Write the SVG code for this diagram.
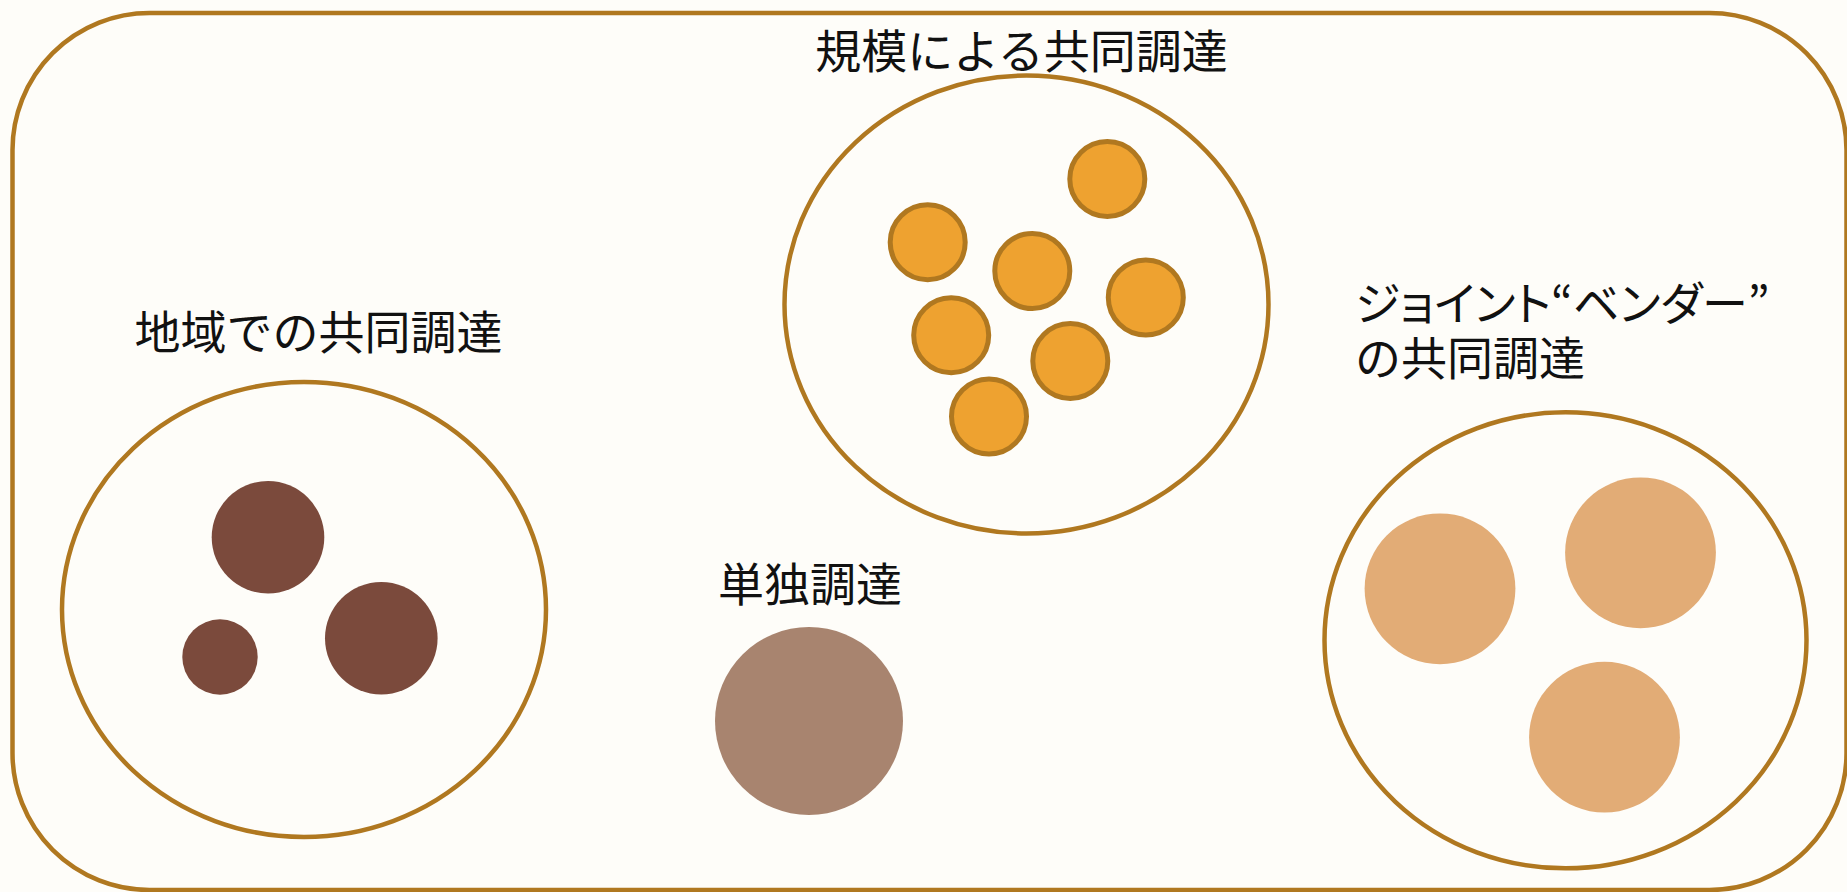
<svg xmlns="http://www.w3.org/2000/svg" width="1847" height="892" viewBox="0 0 1847 892">
<style>
.frame{fill:none;stroke:#B07820;stroke-width:4.5}
.group{fill:#FEFDF9;stroke:#B07820;stroke-width:4.5}
.lbl{font-family:"Noto Sans CJK JP","Noto Sans CJK SC",sans-serif;font-size:46px;fill:#111}
.dark{fill:#7B4A3C}
.solo{fill:#A8846F}
.org{fill:#EEA230;stroke:#B07820;stroke-width:5}
.light{fill:#E2AC76}
</style>
<rect x="0" y="0" width="1847" height="892" fill="#FEFDF9"/>
<rect class="frame" x="12.5" y="13" width="1834" height="877" rx="137" ry="137"/>
<g id="regional">
  <ellipse class="group" cx="304" cy="609.5" rx="242" ry="227.5"/>
  <circle class="dark" cx="268" cy="537.3" r="56.3"/>
  <circle class="dark" cx="381.3" cy="638.3" r="56.3"/>
  <circle class="dark" cx="220" cy="657" r="37.7"/>
  <text class="lbl" x="318.5" y="349" text-anchor="middle">地域での共同調達</text>
</g>
<g id="scale">
  <ellipse class="group" cx="1026.5" cy="304.5" rx="242" ry="229"/>
  <circle class="org" cx="1107.3" cy="179" r="37.5"/>
  <circle class="org" cx="927.7" cy="242.3" r="37.5"/>
  <circle class="org" cx="1032.3" cy="271" r="37.5"/>
  <circle class="org" cx="1145.8" cy="297.5" r="37.5"/>
  <circle class="org" cx="951.2" cy="335.3" r="37.5"/>
  <circle class="org" cx="1070.3" cy="361" r="37.5"/>
  <circle class="org" cx="989" cy="416.5" r="37.5"/>
  <text class="lbl" x="1021.5" y="68" text-anchor="middle">規模による共同調達</text>
</g>
<g id="single">
  <circle class="solo" cx="809" cy="721" r="94"/>
  <text class="lbl" x="810" y="601" text-anchor="middle">単独調達</text>
</g>
<g id="joint">
  <ellipse class="group" cx="1565.5" cy="640.3" rx="241" ry="228"/>
  <circle class="light" cx="1440" cy="588.8" r="75.4"/>
  <circle class="light" cx="1640.5" cy="552.8" r="75.4"/>
  <circle class="light" cx="1604.5" cy="737.2" r="75.4"/>
  <text class="lbl" x="1355" y="319.5" style="font-feature-settings:'palt'">ジョイント“ベンダー”</text>
  <text class="lbl" x="1355" y="375">の共同調達</text>
</g>
<g id="connectors"/>
</svg>
